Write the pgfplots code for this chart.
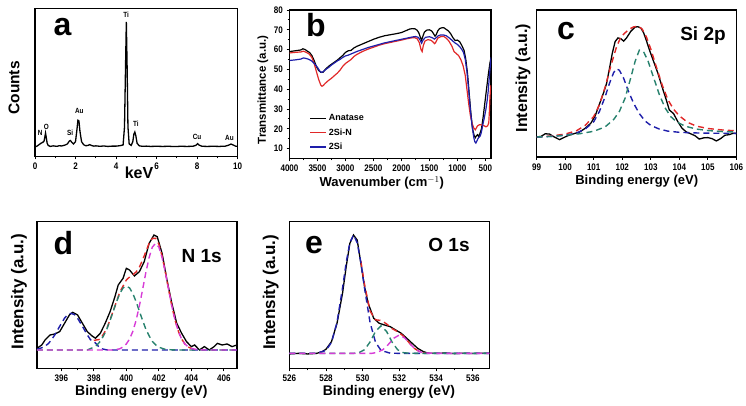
\documentclass[border=0pt]{standalone}
\usepackage{pgfplots}
\pgfplotsset{compat=1.18}
\usepackage{fontspec}
\setmainfont{Liberation Sans}
\newfontfamily\tickfont{Liberation Sans}[FakeStretch=0.85]
\definecolor{myred}{RGB}{225,40,40}
\definecolor{myblue}{RGB}{30,30,170}
\definecolor{myteal}{RGB}{40,130,110}
\definecolor{mymag}{RGB}{215,60,215}
\pgfplotsset{
  panel/.style={
    scale only axis,
    axis line style={line width=1.3pt},
    tick align=outside,
    xtick pos=bottom, ytick pos=left,
    major tick length=3pt, minor tick length=2pt,
    every tick/.style={black, line width=0.9pt},
    tick label style={font=\tickfont\bfseries\fontsize{9.5}{10}\selectfont},
    /pgf/number format/assume math mode=true,
    /pgf/number format/1000 sep={},
    label style={font=\bfseries\fontsize{14}{16}\selectfont},
    xlabel style={anchor=center},
    ylabel style={anchor=center},
  },
  xps/.style={panel, ytick=\empty, ymin=0, ymax=100, minor x tick num=1,
    xlabel={Binding energy (eV)}, ylabel={Intensity (a.u.)}},
  dat/.style={black, line width=1.3pt},
  fit/.style={line width=1.4pt, dash pattern=on 6pt off 4pt},
}
\begin{document}
\begin{tikzpicture}[x=1pt,y=1pt]
\useasboundingbox (0,0) rectangle (746,406);

% ---------------- a: EDS
\begin{axis}[panel, at={(35pt,249.5pt)}, anchor=south west, width=202.5pt, height=148pt,
  xmin=0, xmax=10, ymin=0, ymax=100, ytick=\empty, xtick={0,2,...,10}, minor x tick num=1,
  xlabel={keV}, ylabel={Counts},
  xlabel style={at={(axis description cs:0.514,-0.111)}, font=\bfseries\fontsize{16}{18}\selectfont},
  ylabel style={at={(axis description cs:-0.104,0.463)}, font=\bfseries\fontsize{15.5}{17}\selectfont}]
\addplot[dat] coordinates {
(0.00,6.5)(0.10,7.0)(0.20,8.0)(0.30,9.0)(0.38,9.5)(0.45,10.5)(0.49,13.5)(0.52,15.8)(0.56,12.5)(0.60,9.0)(0.65,7.5)
(0.75,6.8)(0.90,7.2)(1.00,7.0)(1.10,6.9)(1.20,7.3)(1.30,7.1)(1.40,7.4)(1.50,7.8)(1.60,8.5)(1.70,10.5)
(1.75,10.8)(1.82,9.5)(1.90,8.5)(2.00,10.0)(2.07,18.0)(2.12,24.5)(2.17,24.0)(2.22,17.0)(2.30,10.0)(2.40,8.0)
(2.50,7.3)(2.60,7.4)(2.70,8.0)(2.80,7.4)(2.90,7.0)(3.00,7.2)(3.20,6.9)(3.40,7.1)(3.60,6.8)(3.80,7.0)
(4.00,7.0)(4.20,7.3)(4.35,7.8)(4.42,20.0)(4.47,60.0)(4.51,91.0)(4.55,60.0)(4.59,20.0)(4.65,8.5)(4.75,7.5)
(4.83,10.0)(4.88,15.0)(4.93,16.5)(4.98,14.0)(5.04,9.0)(5.15,7.2)(5.30,6.9)(5.50,7.0)(5.70,6.8)(6.00,6.9)
(6.30,6.8)(6.60,6.9)(6.90,6.7)(7.20,6.9)(7.50,6.8)(7.80,6.9)(7.95,7.6)(8.03,8.7)(8.10,7.7)(8.25,6.9)
(8.50,6.8)(8.80,6.9)(9.10,6.8)(9.40,7.0)(9.55,7.6)(9.68,8.4)(9.80,7.7)(9.90,7.0)(10.00,6.9)};
\begin{scope}[every node/.style={font=\tickfont\bfseries\fontsize{7.5}{8}\selectfont, inner sep=0pt}]
\node at (axis cs:0.26,16) {N};
\node at (axis cs:0.56,20) {O};
\node at (axis cs:1.74,16) {Si};
\node at (axis cs:2.19,30.8) {Au};
\node at (axis cs:4.50,95.5) {Ti};
\node at (axis cs:4.98,22) {Ti};
\node at (axis cs:8.00,13.3) {Cu};
\node at (axis cs:9.60,12.6) {Au};
\end{scope}
\end{axis}

% ---------------- b: FTIR
\begin{axis}[panel, at={(289.5pt,247.5pt)}, anchor=south west, width=201.5pt, height=148.5pt,
  x dir=reverse, xmin=400, xmax=4000, ymin=5, ymax=80,
  xtick={500,1000,...,4000}, ytick={10,20,...,80}, minor x tick num=1, minor y tick num=1,
  xlabel={Wavenumber (cm$^{-1}$)}, ylabel={Transmittance (a.u.)},
  xlabel style={at={(axis description cs:0.458,-0.163)}, font=\bfseries\fontsize{13}{15}\selectfont},
  ylabel style={at={(axis description cs:-0.132,0.461)}, font=\bfseries\fontsize{11.5}{13}\selectfont},
  legend style={draw=none, fill=none, at={(axis description cs:0.097,0.31)}, anchor=north west,
    font=\bfseries\fontsize{9}{10}\selectfont, row sep=2.2pt, inner sep=0pt, cells={anchor=west}},
  legend image code/.code={\draw[#1, line width=1.6pt] (0pt,0pt) -- (16pt,0pt);}]
\addplot[black, line width=1.2pt] coordinates {
(4000,59.0)(3900,59.4)(3800,59.8)(3760,60.4)(3720,60.0)(3680,59.2)(3640,58.5)(3600,57.0)(3560,54.5)(3520,51.5)
(3480,49.5)(3440,48.5)(3400,48.6)(3360,50.0)(3300,51.6)(3250,52.6)(3200,53.6)(3150,54.6)(3100,55.8)(3050,57.0)
(3000,58.6)(2950,59.4)(2900,59.6)(2850,60.8)(2800,61.6)(2700,62.8)(2600,64.0)(2500,65.2)(2400,66.2)(2300,67.0)
(2200,67.5)(2100,68.0)(2000,68.6)(1950,69.2)(1900,69.8)(1850,70.4)(1800,70.6)(1760,70.5)(1720,69.8)(1690,68.5)
(1660,66.0)(1640,64.8)(1620,66.5)(1590,68.8)(1550,69.8)(1500,70.0)(1460,69.4)(1430,68.2)(1400,66.8)(1380,67.5)
(1350,69.5)(1320,70.6)(1280,71.0)(1240,71.0)(1200,70.2)(1160,69.4)(1120,68.0)(1080,66.0)(1040,64.6)(1000,64.8)
(960,64.0)(920,62.0)(880,59.5)(850,55.0)(820,48.0)(790,38.0)(760,28.0)(730,20.0)(700,16.5)(680,15.5)
(660,16.5)(640,17.0)(620,16.0)(600,17.5)(570,20.0)(540,26.0)(510,33.0)(480,40.0)(450,47.0)(420,53.0)(400,56.0)};
\addlegendentry{Anatase}
\addplot[myred, line width=1.2pt] coordinates {
(4000,58.3)(3900,58.6)(3800,58.8)(3750,59.2)(3700,58.6)(3650,57.8)(3600,56.0)(3560,53.0)(3520,49.0)(3480,45.0)
(3440,42.0)(3420,41.5)(3400,41.8)(3360,43.0)(3300,44.5)(3250,45.5)(3200,46.8)(3150,48.0)(3100,49.5)(3050,51.5)
(3000,53.0)(2950,54.0)(2900,55.0)(2850,56.5)(2800,57.5)(2700,59.0)(2600,60.2)(2500,61.2)(2400,62.2)(2300,63.0)
(2200,63.6)(2100,64.2)(2000,64.8)(1900,65.5)(1800,66.0)(1760,66.0)(1720,65.5)(1680,63.5)(1650,60.0)(1630,59.0)
(1610,62.0)(1580,64.3)(1530,65.0)(1480,64.8)(1440,64.0)(1410,63.0)(1390,63.5)(1350,65.8)(1300,66.5)(1250,66.7)
(1200,65.8)(1150,64.2)(1100,61.8)(1060,59.0)(1020,58.0)(980,57.0)(940,55.0)(900,52.0)(860,47.0)(830,40.0)
(800,33.0)(770,27.0)(740,23.0)(710,20.5)(680,19.5)(660,20.5)(640,21.5)(610,22.0)(580,22.0)(550,21.8)
(520,21.5)(490,21.0)(460,21.5)(440,23.0)(430,28.0)(420,35.0)(410,40.0)(400,42.0)};
\addlegendentry{2Si-N}
\addplot[myblue, line width=1.2pt] coordinates {
(4000,54.5)(3900,54.8)(3800,55.2)(3750,55.8)(3700,55.5)(3650,55.0)(3600,54.2)(3550,52.8)(3500,51.0)(3460,49.2)
(3430,48.5)(3400,48.8)(3350,50.0)(3300,51.0)(3250,52.2)(3200,53.2)(3150,54.2)(3100,55.0)(3050,56.0)(3000,56.8)
(2950,57.2)(2900,57.8)(2800,59.0)(2700,60.0)(2600,61.0)(2500,61.8)(2400,62.6)(2300,63.4)(2200,64.0)(2100,64.6)
(2000,65.2)(1900,65.8)(1800,66.4)(1750,66.6)(1700,66.2)(1670,65.0)(1640,63.2)(1610,65.0)(1570,66.2)(1500,66.5)
(1450,66.0)(1410,65.3)(1380,66.0)(1340,67.0)(1300,67.4)(1250,67.4)(1200,67.0)(1150,66.0)(1100,64.8)(1050,63.5)
(1000,62.6)(960,61.5)(920,60.0)(890,58.5)(860,55.0)(830,49.0)(800,40.0)(770,30.0)(740,22.0)(710,16.0)
(690,13.5)(670,12.8)(650,14.0)(630,15.2)(610,15.8)(590,16.5)(570,18.5)(550,21.5)(520,25.5)(490,30.0)
(470,34.0)(450,39.0)(430,46.0)(415,51.0)(400,56.0)};
\addlegendentry{2Si}
\end{axis}

% ---------------- c: Si 2p
\begin{axis}[xps, at={(536.7pt,249pt)}, anchor=south west, width=199.6pt, height=147pt,
  xmin=99, xmax=106, xtick={99,...,106}, minor x tick num=0,
  xlabel style={at={(axis description cs:0.501,-0.163)}, font=\bfseries\fontsize{13}{15}\selectfont},
  ylabel style={at={(axis description cs:-0.069,0.537)}, font=\bfseries\fontsize{16}{18}\selectfont}]
\addplot[dat] coordinates {
(99.0,13.6)(99.15,14.0)(99.3,15.8)(99.45,15.6)(99.6,13.8)(99.8,11.8)(99.95,13.2)(100.1,14.6)(100.3,15.8)(100.5,17.0)
(100.7,19.5)(100.9,23.0)(101.05,28.0)(101.2,36.0)(101.35,44.0)(101.45,50.0)(101.55,60.0)(101.65,70.5)(101.75,78.5)(101.85,81.0)
(101.95,80.5)(102.05,78.8)(102.15,81.0)(102.3,85.5)(102.45,88.4)(102.55,88.6)(102.65,87.8)(102.75,84.5)(102.85,79.0)(102.95,73.0)
(103.1,65.0)(103.25,57.0)(103.4,47.5)(103.55,38.5)(103.65,32.0)(103.8,29.5)(103.95,24.0)(104.1,19.5)(104.25,17.0)(104.4,15.8)
(104.55,14.5)(104.7,12.2)(104.85,13.0)(105.0,13.2)(105.15,12.5)(105.3,10.9)(105.45,12.5)(105.6,14.8)(105.75,15.2)(105.9,16.2)(106.0,16.0)};
\addplot[fit, myred] coordinates {
(99.0,13.6)(99.5,14.3)(100.0,15.6)(100.4,17.9)(100.7,21.5)(101.0,27.5)(101.2,35.5)(101.4,47.5)(101.6,62.0)(101.8,75.0)
(101.95,81.5)(102.1,84.5)(102.25,87.0)(102.4,88.5)(102.55,89.0)(102.7,87.0)(102.85,81.5)(103.0,73.5)(103.2,61.0)(103.4,49.0)
(103.6,39.0)(103.8,32.5)(104.0,28.0)(104.3,23.5)(104.6,21.0)(105.0,19.4)(105.5,18.4)(106.0,17.8)};
\addplot[fit, myblue] coordinates {
(99.0,13.6)(99.5,14.0)(100.0,14.8)(100.4,16.3)(100.7,19.0)(101.0,24.0)(101.2,31.0)(101.4,41.0)(101.55,50.0)(101.7,57.5)
(101.8,60.0)(101.9,59.0)(102.05,53.5)(102.2,45.5)(102.4,36.5)(102.6,29.5)(102.8,24.5)(103.0,21.5)(103.3,19.0)(103.6,17.6)
(104.0,16.8)(104.5,16.4)(105.0,16.2)(106.0,16.1)};
\addplot[fit, myteal] coordinates {
(99.0,13.6)(99.5,14.0)(100.0,14.8)(100.5,15.8)(101.0,17.5)(101.4,20.5)(101.7,25.5)(101.9,31.0)(102.1,40.0)(102.3,54.0)
(102.45,65.0)(102.6,72.7)(102.75,71.5)(102.9,65.5)(103.1,54.0)(103.3,42.5)(103.5,33.5)(103.7,27.5)(103.9,24.0)(104.2,21.0)
(104.6,19.0)(105.0,18.0)(105.5,17.3)(106.0,17.0)};
\end{axis}

% ---------------- d: N 1s
\begin{axis}[xps, at={(36.9pt,37.7pt)}, anchor=south west, width=200pt, height=146.6pt,
  xmin=394.5, xmax=406.8, xtick={396,398,...,406},
  xlabel style={at={(axis description cs:0.522,-0.164)}},
  ylabel style={at={(axis description cs:-0.0895,0.523)}, font=\bfseries\fontsize{17}{19}\selectfont}]
\addplot[dat] coordinates {
(394.5,13.6)(394.8,15.9)(395.0,19.3)(395.3,22.7)(395.6,23.4)(395.9,25.0)(396.2,30.7)(396.5,36.4)(396.7,38.2)(397.0,36.4)
(397.3,30.7)(397.6,25.0)(397.9,22.0)(398.1,20.5)(398.4,23.9)(398.7,30.7)(399.0,38.6)(399.3,48.9)(399.5,56.8)(399.8,61.4)
(400.0,68.2)(400.2,67.0)(400.5,63.0)(400.8,65.9)(401.1,72.7)(401.4,85.2)(401.7,90.9)(401.9,89.8)(402.2,78.4)(402.5,60.2)
(402.8,44.3)(403.1,30.7)(403.4,23.9)(403.7,18.2)(404.0,14.8)(404.2,15.9)(404.5,12.5)(404.8,14.8)(405.1,12.5)(405.4,14.8)
(405.6,17.0)(405.9,15.9)(406.2,16.6)(406.5,14.8)(406.8,15.9)};
\addplot[fit, myred] coordinates {
(398.0,19.0)(398.4,19.8)(398.8,27.1)(399.2,39.3)(399.6,52.0)(400.0,60.2)(400.2,62.3)(400.4,63.7)(400.6,65.7)(400.8,68.9)
(401.0,73.9)(401.2,79.5)(401.4,85.2)(401.6,88.6)(401.8,88.7)(402.0,84.6)(402.2,76.5)(402.4,65.7)(402.6,53.8)(402.8,42.4)
(403.0,32.7)(403.2,25.2)(403.4,20.0)(403.6,16.6)(403.8,14.6)(404.0,13.5)(404.4,12.7)};
\addplot[fit, myblue] coordinates {
(394.5,13.0)(394.8,14.0)(395.0,15.1)(395.2,16.8)(395.4,19.4)(395.6,22.8)(395.8,26.7)(396.0,30.5)(396.2,34.2)(396.4,36.7)
(396.6,37.5)(396.8,36.7)(397.0,34.2)(397.2,30.5)(397.4,26.7)(397.6,22.8)(397.8,19.4)(398.0,18.5)(398.2,16.0)(398.4,13.6)
(398.6,13.0)(398.8,12.6)(399.2,12.5)(406.8,12.5)};
\addplot[fit, myteal] coordinates {
(394.5,12.5)(397.6,12.5)(398.0,14.4)(398.2,16.0)(398.4,18.4)(398.6,22.2)(398.8,26.7)(399.0,32.7)(399.2,39.0)(399.4,45.5)
(399.6,51.0)(399.8,54.8)(400.0,56.1)(400.2,54.8)(400.4,51.0)(400.6,45.5)(400.8,39.0)(401.0,32.7)(401.2,26.7)(401.4,22.2)
(401.6,18.4)(401.8,16.0)(402.0,14.4)(402.4,12.9)(402.8,12.6)(403.2,12.5)(406.8,12.5)};
\addplot[fit, mymag] coordinates {
(394.5,12.5)(399.2,12.5)(399.6,13.3)(399.8,14.6)(400.0,16.6)(400.2,20.0)(400.4,25.2)(400.6,32.7)(400.8,42.4)(401.0,53.7)
(401.2,65.3)(401.4,75.5)(401.6,82.7)(401.8,85.2)(402.0,82.7)(402.2,75.5)(402.4,65.3)(402.6,53.7)(402.8,42.4)(403.0,32.7)
(403.2,25.2)(403.4,20.0)(403.6,16.6)(403.8,14.6)(404.0,13.5)(404.4,12.7)(404.8,12.5)(406.8,12.5)};
\end{axis}

% ---------------- e: O 1s
\begin{axis}[xps, at={(289.3pt,37.7pt)}, anchor=south west, width=200pt, height=146.6pt,
  xmin=526, xmax=536.9, xtick={526,528,...,536},
  xlabel style={at={(axis description cs:0.4985,-0.162)}},
  ylabel style={at={(axis description cs:-0.093,0.518)}, font=\bfseries\fontsize{17}{19}\selectfont}]
\addplot[dat] coordinates {
(526.0,9.8)(526.5,10.2)(527.0,9.8)(527.5,10.2)(527.8,11.4)(528.0,13.0)(528.3,18.2)(528.6,30.7)(528.9,51.1)(529.1,69.3)
(529.3,85.2)(529.5,90.9)(529.7,87.5)(529.9,71.6)(530.1,55.7)(530.3,44.3)(530.6,34.1)(530.9,30.7)(531.2,29.5)(531.5,28.4)
(531.8,26.1)(532.1,23.9)(532.4,20.5)(532.7,17.0)(533.0,13.6)(533.3,11.4)(533.6,10.2)(534.0,10.2)(534.5,10.4)(535.0,10.0)
(535.5,10.3)(536.0,10.1)(536.5,10.3)(536.9,10.2)};
\addplot[fit, myred] coordinates {
(529.9,73.1)(530.1,57.2)(530.4,39.1)(530.7,33.1)(531.0,32.6)(531.3,30.3)(531.6,27.1)(531.9,25.0)(532.2,22.2)(532.5,17.9)
(532.8,13.7)(533.1,11.3)(533.4,10.4)(533.8,10.2)};
\addplot[fit, myblue] coordinates {
(526.0,10.2)(527.5,10.3)(528.0,12.2)(528.3,17.7)(528.6,31.3)(528.9,54.7)(529.1,72.2)(529.3,85.7)(529.5,90.9)(529.7,85.7)
(529.9,72.2)(530.1,54.7)(530.4,31.3)(530.7,17.7)(531.0,12.2)(531.5,10.3)(532.0,10.2)(536.9,10.2)};
\addplot[fit, myteal] coordinates {
(526.0,10.2)(529.5,10.2)(529.8,10.7)(530.1,12.7)(530.4,17.9)(530.7,25.2)(531.0,28.9)(531.3,25.2)(531.6,17.9)(531.9,12.7)
(532.2,10.7)(532.5,10.3)(533.0,10.2)(536.9,10.2)};
\addplot[fit, mymag] coordinates {
(526.0,10.2)(530.5,10.2)(530.8,10.9)(531.1,12.7)(531.4,16.3)(531.7,20.6)(532.0,22.7)(532.3,20.6)(532.6,16.3)(532.9,12.7)
(533.2,10.9)(533.5,10.4)(534.0,10.2)(536.9,10.2)};
\end{axis}

% panel letters and element labels
\begin{scope}[every node/.style={inner sep=0pt, font=\bfseries\fontsize{32}{32}\selectfont}]
\node at (62.5,379.3) {a};
\node at (315.8,381) {b};
\node at (566,375.2) {c};
\node at (63.3,162.7) {d};
\node at (314,161) {e};
\end{scope}
\begin{scope}[every node/.style={inner sep=0pt, font=\bfseries\fontsize{19}{20}\selectfont}]
\node at (703,370.5) {Si 2p};
\node at (201.7,150) {N 1s};
\node at (449,161) {O 1s};
\end{scope}
\end{tikzpicture}
\end{document}
